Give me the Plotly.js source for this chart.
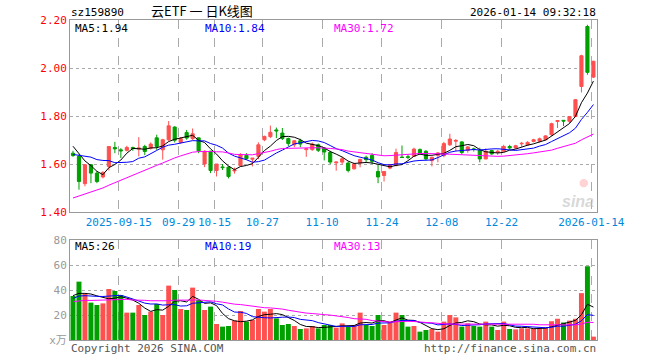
<!DOCTYPE html>
<html><head><meta charset="utf-8">
<script src="https://cdn.plot.ly/plotly-3.0.1.min.js"></script>
<style>html,body{margin:0;padding:0;background:#fff}#chart{width:660px;height:360px}</style>
</head><body><div id="chart"></div>
<script>
const dates = ['2025-09-03','2025-09-04','2025-09-05','2025-09-08','2025-09-09','2025-09-10','2025-09-11','2025-09-12','2025-09-15','2025-09-16','2025-09-17','2025-09-18','2025-09-19','2025-09-22','2025-09-23','2025-09-24','2025-09-25','2025-09-26','2025-09-29','2025-09-30',
'2025-10-09','2025-10-10','2025-10-13','2025-10-14','2025-10-15','2025-10-16','2025-10-17','2025-10-20','2025-10-21','2025-10-22','2025-10-23','2025-10-24','2025-10-27','2025-10-28','2025-10-29','2025-10-30','2025-10-31',
'2025-11-03','2025-11-04','2025-11-05','2025-11-06','2025-11-07','2025-11-10','2025-11-11','2025-11-12','2025-11-13','2025-11-14','2025-11-17','2025-11-18','2025-11-19','2025-11-20','2025-11-21','2025-11-24','2025-11-25','2025-11-26','2025-11-27','2025-11-28',
'2025-12-01','2025-12-02','2025-12-03','2025-12-04','2025-12-05','2025-12-08','2025-12-09','2025-12-10','2025-12-11','2025-12-12','2025-12-15','2025-12-16','2025-12-17','2025-12-18','2025-12-19','2025-12-22','2025-12-23','2025-12-24','2025-12-25','2025-12-26','2025-12-29','2025-12-30','2025-12-31',
'2026-01-05','2026-01-06','2026-01-07','2026-01-08','2026-01-09','2026-01-12','2026-01-13','2026-01-14'];

const openP = [1.645,1.632,1.518,1.597,1.562,1.546,1.590,1.669,1.659,1.657, 1.669,1.662,1.673,1.666,1.709,1.659,1.701,1.754,1.690,1.731, 1.706,1.709,1.600,1.653,1.573,1.588,1.587,1.571,1.593,1.636, 1.620,1.632,1.701,1.714,1.742,1.729,1.706,1.680,1.697,1.660, 1.660,1.680,1.667,1.648,1.605,1.608,1.604,1.580,1.604,1.628, 1.636,1.569,1.552,1.583,1.594,1.629,1.630,1.632,1.660,1.653, 1.614,1.636,1.635,1.680,1.695,1.692,1.657,1.663,1.657,1.621, 1.656,1.648,1.653,1.673,1.667,1.684,1.680,1.694,1.695,1.701, 1.722,1.777,1.782,1.778,1.798,1.923,2.173,1.962];
const highP = [1.655,1.640,1.600,1.600,1.570,1.570,1.675,1.692,1.666,1.676, 1.672,1.712,1.680,1.690,1.722,1.705,1.779,1.757,1.712,1.742, 1.748,1.710,1.657,1.655,1.600,1.600,1.590,1.585,1.645,1.645, 1.625,1.690,1.718,1.760,1.752,1.750,1.710,1.700,1.705,1.667, 1.690,1.685,1.670,1.655,1.610,1.630,1.610,1.605,1.622,1.635, 1.645,1.597,1.570,1.600,1.664,1.677,1.640,1.668,1.665,1.658, 1.630,1.650,1.692,1.726,1.704,1.695,1.675,1.668,1.668,1.665, 1.660,1.660,1.680,1.680,1.680,1.692,1.695,1.705,1.710,1.720, 1.772,1.783,1.783,1.800,1.870,2.055,2.180,2.030];
const lowP = [1.630,1.493,1.507,1.520,1.520,1.540,1.573,1.645,1.625,1.652, 1.655,1.632,1.637,1.660,1.659,1.618,1.695,1.690,1.685,1.701, 1.700,1.645,1.587,1.562,1.548,1.575,1.540,1.560,1.590,1.617, 1.590,1.620,1.695,1.708,1.708,1.700,1.675,1.670,1.670,1.630, 1.655,1.650,1.615,1.600,1.572,1.598,1.565,1.577,1.586,1.605, 1.600,1.520,1.527,1.578,1.590,1.625,1.620,1.630,1.638,1.615, 1.590,1.607,1.628,1.675,1.653,1.640,1.647,1.652,1.607,1.620, 1.638,1.638,1.650,1.660,1.662,1.672,1.675,1.690,1.690,1.698, 1.716,1.750,1.758,1.770,1.795,1.898,1.972,1.958];
const closeP = [1.635,1.527,1.597,1.562,1.527,1.565,1.673,1.663,1.655,1.669, 1.664,1.667,1.652,1.683,1.673,1.701,1.759,1.699,1.706,1.708, 1.726,1.655,1.653,1.573,1.600,1.585,1.548,1.575,1.639,1.622, 1.624,1.680,1.715,1.732,1.738,1.706,1.685,1.697,1.683,1.663, 1.683,1.657,1.650,1.608,1.608,1.622,1.573,1.600,1.619,1.618, 1.611,1.546,1.569,1.597,1.648,1.627,1.628,1.662,1.642,1.621, 1.628,1.646,1.685,1.704,1.698,1.648,1.671,1.661,1.621,1.653, 1.642,1.653,1.673,1.667,1.676,1.686,1.690,1.701,1.705,1.717, 1.768,1.781,1.779,1.798,1.868,2.051,1.982,2.028];
const volume = [35.2,46.7,36.8,29.9,28,29.3,40.8,39.2,36,21.9, 21.9,28,20,22.7,28.8,20,43.5,40,24.8,24, 41.9,32,24,26.7,12.8,10.7,11.2,15.5,23.2,14.7, 16,24.8,22.7,24.8,17.3,12,12.8,11.2,8.8,9.3, 11.2,9.3,12,12,9.9,13.3,10.7,12,21.9,12, 11.2,20,12,14.7,21.9,20,10.7,11.2,6.7,8, 8.8,6.7,14.7,20,18.1,10.7,13.3,11.2,10.7,14.7, 10.7,8,14.7,8.8,8.5,9.3,9.3,9.3,9.3,10, 15,17,14,15.5,17,37.5,59,2.7];

// 29 sessions before the first shown candle (only feed the moving averages, read back from the MA lines)
const priorClose = [1.29,1.30,1.31,1.32,1.30,1.33,1.34,1.36, 1.35,1.33,1.35,1.37,1.36,1.38,1.41, 1.40,1.43,1.45,1.47,1.50, 1.58,1.62,1.60,1.63,1.60, 1.68,1.75,1.66,1.645];
const priorVolume = [25,28,32,22,30,35,27,24,31,38,26,29,33,27,30,36,25,28,31,31, 28,34,30,33,30.5, 37.7,36.8,32.4,35.4];

const tickDates = ['2025-09-15','2025-09-29','2025-10-15','2025-10-27','2025-11-10','2025-11-24','2025-12-08','2025-12-22','2026-01-14'];
const tickLabels = ['2025-09-15','09-29','10-15','10-27','11-10','11-24','12-08','12-22','2026-01-14'];
const priceTicks = [1.40,1.60,1.80,2.00,2.20];
const volTicks = [0,20,40,60,80];
const volTickLabels = ['x万','20','40','60','80'];

const symbol = 'sz159890';
const titleText = '云ETF 一 日K线图';
const stamp = '2026-01-14 09:32:18';

function movingAvg(prior, vals, n){
  const all = prior.concat(vals), off = prior.length;
  return vals.map((_, i) => { let s = 0; for (let k = 0; k < n; k++) s += all[off + i - k]; return s / n; });
}
const xs = dates.map((d, i) => i);
const RED = '#ff5050', GREEN = '#00a000';
const ma5 = movingAvg(priorClose, closeP, 5), ma10 = movingAvg(priorClose, closeP, 10), ma30 = movingAvg(priorClose, closeP, 30);
const vma5 = movingAvg(priorVolume, volume, 5), vma10 = movingAvg(priorVolume, volume, 10), vma30 = movingAvg(priorVolume, volume, 30);
const volColors = closeP.map((c, i) => c >= openP[i] ? RED : GREEN);
const last = a => a[a.length - 1];
const f2 = v => (Math.floor(v * 100 + 1e-9) / 100).toFixed(2);
const f0 = v => String(Math.floor(v + 1e-9));

const tickIdx = tickDates.map(d => dates.indexOf(d) - 0.35);
const MONO = 'DejaVu Sans Mono, Liberation Mono, monospace';

const traces = [
  {type:'candlestick', x:xs, open:openP, high:highP, low:lowP, close:closeP, xaxis:'x', yaxis:'y',
   increasing:{line:{color:RED, width:1}, fillcolor:RED}, decreasing:{line:{color:GREEN, width:1}, fillcolor:GREEN},
   whiskerwidth:0, showlegend:false, hoverinfo:'skip'},
  {type:'scatter', mode:'lines', x:xs, y:ma5, line:{color:'#000', width:1}, xaxis:'x', yaxis:'y', showlegend:false, hoverinfo:'skip'},
  {type:'scatter', mode:'lines', x:xs, y:ma10, line:{color:'#0000ff', width:1}, xaxis:'x', yaxis:'y', showlegend:false, hoverinfo:'skip'},
  {type:'scatter', mode:'lines', x:xs, y:ma30, line:{color:'#ff00ff', width:1}, xaxis:'x', yaxis:'y', showlegend:false, hoverinfo:'skip'},
  {type:'bar', x:xs, y:volume, marker:{color:volColors, line:{width:0}}, xaxis:'x2', yaxis:'y2', showlegend:false, hoverinfo:'skip'},
  {type:'scatter', mode:'lines', x:xs, y:vma5, line:{color:'#000', width:1}, xaxis:'x2', yaxis:'y2', showlegend:false, hoverinfo:'skip'},
  {type:'scatter', mode:'lines', x:xs, y:vma10, line:{color:'#0000ff', width:1}, xaxis:'x2', yaxis:'y2', showlegend:false, hoverinfo:'skip'},
  {type:'scatter', mode:'lines', x:xs, y:vma30, line:{color:'#ff00ff', width:1}, xaxis:'x2', yaxis:'y2', showlegend:false, hoverinfo:'skip'}
];

const W = 527, H = 320; // plot pixel area (x 70..597, y 20..340)
const px = p => (p - 70) / W, py = p => (340 - p) / H;
function ann(text, x, y, color, size, xanchor, family){
  return {text:text, x:px(x), y:py(y), xref:'paper', yref:'paper', showarrow:false, xanchor:xanchor||'left', yanchor:'middle',
          font:{family:family||MONO, size:size||10, color:color}};
}
const annotations = [
  ann(symbol, 69, 12, '#000', 11),
  ann(titleText, 202, 10, '#000', 13, 'center', 'Noto Sans CJK SC, sans-serif'),
  ann(stamp, 598, 12, '#000', 11, 'right'),
  ann('MA5:' + f2(last(ma5)), 73, 28, '#000', 11),
  ann('MA10:' + f2(last(ma10)), 203, 28, '#0000ff', 11),
  ann('MA30:' + f2(last(ma30)), 332, 28, '#ff00ff', 11),
  ann('MA5:' + f0(last(vma5)), 73, 246, '#000', 11),
  ann('MA10:' + f0(last(vma10)), 203, 246, '#0000ff', 11),
  ann('MA30:' + f0(last(vma30)), 332, 246, '#ff00ff', 11),
  ann('Copyright 2026 SINA.COM', 69, 348, '#555', 11),
  ann('http://finance.sina.com.cn', 598, 348, '#555', 11, 'right'),
  ann('<b><i>sina</i></b>', 596, 201, 'rgba(190,190,190,0.6)', 16, 'right', 'Liberation Sans, sans-serif'),
  ann('●', 584, 182, 'rgba(255,140,140,0.4)', 11, 'center', 'DejaVu Sans')
];

const axisBase = {showline:true, mirror:true, linecolor:'#999', linewidth:1, zeroline:false, ticks:'', fixedrange:true};
const layout = {
  width:660, height:360, margin:{l:70, r:63, t:20, b:20}, paper_bgcolor:'#fff', plot_bgcolor:'#fff',
  showlegend:false, boxgap:0.25, bargap:0.17, hovermode:false,
  xaxis: Object.assign({}, axisBase, {domain:[0,1], anchor:'y', range:[-0.5, 87.6], tickmode:'array', tickvals:tickIdx, ticktext:tickLabels,
    tickfont:{family:MONO, size:11, color:'#0088dd'}, showgrid:true, gridcolor:'#aaa', griddash:'dash', gridwidth:1, rangeslider:{visible:false}}),
  yaxis: Object.assign({}, axisBase, {domain:[0.4,1], anchor:'x', range:[1.40, 2.20], tickmode:'array', tickvals:priceTicks, ticktext:priceTicks.map(v => v.toFixed(2)),
    tickfont:{family:MONO, size:11, color:'#ff0000'}, showgrid:true, gridcolor:'#aaa', griddash:'dot', gridwidth:1}),
  xaxis2: Object.assign({}, axisBase, {domain:[0,1], anchor:'y2', matches:'x', range:[-0.5, 87.6], tickmode:'array', tickvals:tickIdx, showticklabels:false,
    showgrid:true, gridcolor:'#aaa', griddash:'dash', gridwidth:1}),
  yaxis2: Object.assign({}, axisBase, {domain:[0,0.3125], anchor:'x2', range:[0, 80], tickmode:'array', tickvals:volTicks, ticktext:volTickLabels,
    tickfont:{family:MONO + ', Noto Sans CJK SC', size:11, color:'#999'}, showgrid:true, gridcolor:'#aaa', griddash:'dot', gridwidth:1}),
  annotations: annotations
};
Plotly.newPlot('chart', traces, layout, {displayModeBar:false, staticPlot:true});
</script>
</body></html>
